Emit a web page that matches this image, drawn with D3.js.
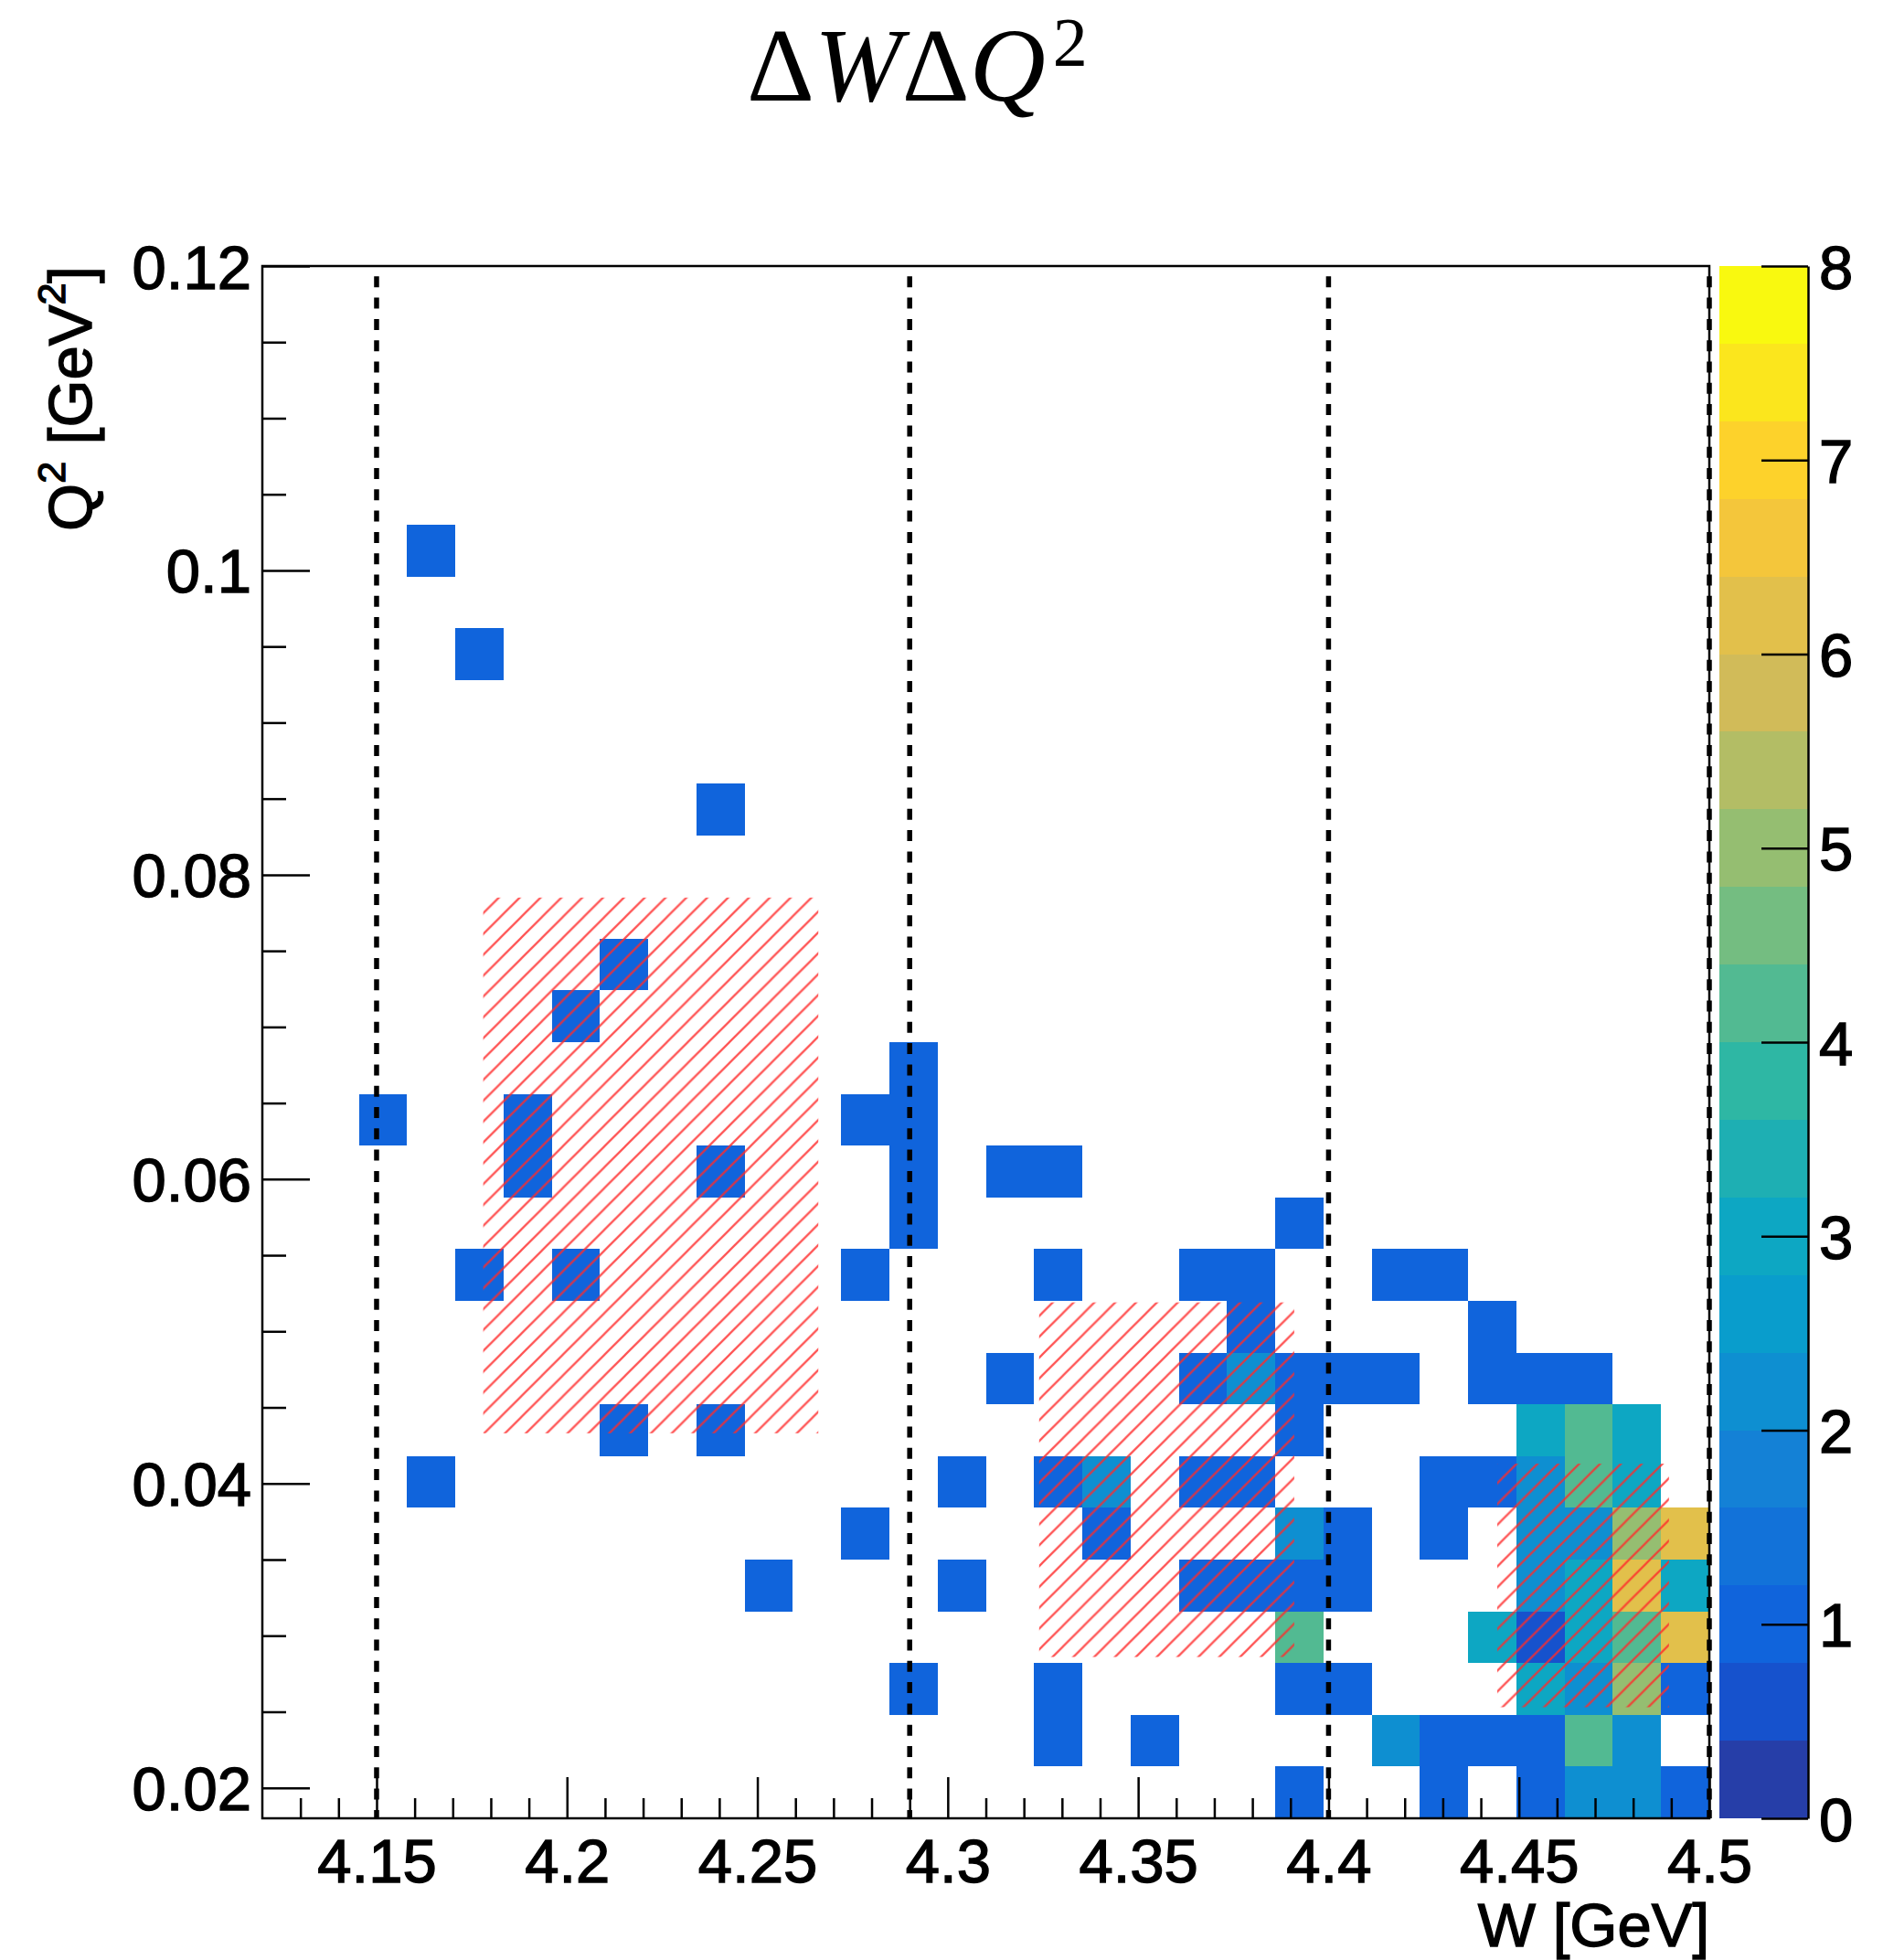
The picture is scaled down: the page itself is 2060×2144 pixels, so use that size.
<!DOCTYPE html>
<html>
<head>
<meta charset="utf-8">
<script src="https://cdn.jsdelivr.net/npm/d3@7"></script>
<style>
  body { margin: 0; background: #ffffff; }
  svg { display: block; }
</style>
</head>
<body>
<svg id="chart" width="2060" height="2144"></svg>
<script>
// ---- Histogram definition ----
const wRange = [4.12, 4.5];      // W [GeV]
const q2Range = [0.018, 0.12];   // Q^2 [GeV^2]
const nBinsW = 30;
const nBinsQ2 = 30;
const zRange = [0, 8];
const nContours = 20;

// Filled cells: W bin index, Q^2 bin index, content
const binW = [
  3, 4, 9, 7, 6, 13,
  2, 5, 12, 13,
  5, 9, 13, 15, 16,
  13, 21,
  4, 6, 12, 16, 19, 20, 23, 24,
  20, 25,
  15, 19, 20, 21, 22, 23, 25, 26, 27,
  7, 9, 21, 26, 27, 28,
  3, 14, 16, 17, 19, 20, 24, 25, 26, 27, 28,
  12, 17, 21, 22, 24, 26, 27, 28, 29,
  10, 14, 19, 20, 21, 22, 26, 27, 28, 29,
  21, 25, 26, 27, 28, 29,
  13, 16, 21, 22, 26, 27, 28, 29,
  16, 18, 23, 24, 25, 26, 27, 28,
  21, 24, 26, 27, 28, 29
];
const binQ2 = [
  24, 22, 19, 16, 15, 14,
  13, 13, 13, 13,
  12, 12, 12, 12, 12,
  11, 11,
  10, 10, 10, 10, 10, 10, 10, 10,
  9, 9,
  8, 8, 8, 8, 8, 8, 8, 8, 8,
  7, 7, 7, 7, 7, 7,
  6, 6, 6, 6, 6, 6, 6, 6, 6, 6, 6,
  5, 5, 5, 5, 5, 5, 5, 5, 5,
  4, 4, 4, 4, 4, 4, 4, 4, 4, 4,
  3, 3, 3, 3, 3, 3,
  2, 2, 2, 2, 2, 2, 2, 2,
  1, 1, 1, 1, 1, 1, 1, 1,
  0, 0, 0, 0, 0, 0
];
const counts = [
  1, 1, 1, 1, 1, 1,
  1, 1, 1, 1,
  1, 1, 1, 1, 1,
  1, 1,
  1, 1, 1, 1, 1, 1, 1, 1,
  1, 1,
  1, 1, 2, 1, 1, 1, 1, 1, 1,
  1, 1, 1, 3, 4, 3,
  1, 1, 1, 2, 1, 1, 1, 1, 2, 4, 3,
  1, 1, 2, 1, 1, 2, 2, 5, 6,
  1, 1, 1, 1, 1, 1, 2, 3, 6, 3,
  4, 3, 0.6, 3, 4, 6,
  1, 1, 1, 1, 3, 2, 5, 1,
  1, 1, 2, 1, 1, 1, 4, 2,
  1, 1, 1, 2, 2, 1
];

// Hatched windows (W from/to, Q^2 from/to)
const windowW0 = [4.178, 4.324, 4.4443];
const windowW1 = [4.266, 4.391, 4.4894];
const windowQ0 = [0.0433, 0.0286, 0.0253];
const windowQ1 = [0.0785, 0.0519, 0.0413];

// Vertical W cuts
const cutW = [4.15, 4.29, 4.40, 4.50];

// Axis ticks
const xTicks = [4.15, 4.2, 4.25, 4.3, 4.35, 4.4, 4.45, 4.5];
const xTickLabels = ["4.15", "4.2", "4.25", "4.3", "4.35", "4.4", "4.45", "4.5"];
const yTicks = [0.02, 0.04, 0.06, 0.08, 0.1, 0.12];
const yTickLabels = ["0.02", "0.04", "0.06", "0.08", "0.1", "0.12"];
const zTicks = [0, 1, 2, 3, 4, 5, 6, 7, 8];
const zTickLabels = ["0", "1", "2", "3", "4", "5", "6", "7", "8"];

// ---- Palette (kBird) ----
const birdStops = [0.0, 0.125, 0.25, 0.375, 0.5, 0.625, 0.75, 0.875, 1.0];
const birdR = [0.2082, 0.0592, 0.0780, 0.0232, 0.1802, 0.5301, 0.8186, 0.9956, 0.9764];
const birdG = [0.1664, 0.3599, 0.5041, 0.6419, 0.7178, 0.7492, 0.7328, 0.7862, 0.9832];
const birdB = [0.5293, 0.8684, 0.8385, 0.7914, 0.6425, 0.4662, 0.3499, 0.1968, 0.0539];

const nColors = 255;
const paletteTable = [];
for (let g = 1; g < birdStops.length; g++) {
  const n = Math.floor(nColors * birdStops[g]) - Math.floor(nColors * birdStops[g - 1]);
  for (let c = 0; c < n; c++) {
    const f = c / n;
    paletteTable.push(d3.rgb(
      255 * (birdR[g - 1] + f * (birdR[g] - birdR[g - 1])),
      255 * (birdG[g - 1] + f * (birdG[g] - birdG[g - 1])),
      255 * (birdB[g - 1] + f * (birdB[g] - birdB[g - 1]))
    ).formatHex());
  }
}
const levelStep = (zRange[1] - zRange[0]) / nContours;
function levelColor(k) {
  const idx = Math.min(nColors - 1, Math.floor((k + 0.99) * nColors / nContours));
  return paletteTable[idx];
}
function valueColor(v) {
  const k = Math.max(0, Math.min(nContours - 1, Math.floor((v - zRange[0]) / levelStep + 1e-9)));
  return levelColor(k);
}

// ---- Layout ----
const frame = { left: 287, right: 1870, top: 291, bottom: 1989 };
const bar = { left: 1881, right: 1978 };
const axisFont = "'Liberation Sans', Arial, Helvetica, sans-serif";
const labelSize = 67;
const textWeight = 1.4;   // slight stroke to thicken the sans glyphs

const svg = d3.select("#chart");
const x = d3.scaleLinear().domain(wRange).range([frame.left, frame.right]);
const y = d3.scaleLinear().domain(q2Range).range([frame.bottom, frame.top]);
const z = d3.scaleLinear().domain(zRange).range([frame.bottom, frame.top]);

const wEdges = d3.range(nBinsW + 1).map(i => wRange[0] + i * (wRange[1] - wRange[0]) / nBinsW);
const q2Edges = d3.range(nBinsQ2 + 1).map(j => q2Range[0] + j * (q2Range[1] - q2Range[0]) / nBinsQ2);

// Hatch pattern: "/" lines in red
const hs = 22.8;
const defs = svg.append("defs");
defs.append("pattern")
  .attr("id", "hatch")
  .attr("patternUnits", "userSpaceOnUse")
  .attr("width", hs).attr("height", hs)
  .append("path")
  .attr("d", `M${-hs / 4},${hs / 4} L${hs / 4},${-hs / 4} M0,${hs} L${hs},0 M${hs * 3 / 4},${hs * 5 / 4} L${hs * 5 / 4},${hs * 3 / 4}`)
  .attr("stroke", "#ff2a2a")
  .attr("stroke-opacity", 0.8)
  .attr("stroke-width", 2.3)
  .attr("fill", "none");

// Cells
svg.append("g").attr("class", "cells")
  .selectAll("rect")
  .data(d3.range(counts.length))
  .join("rect")
  .attr("x", i => x(wEdges[binW[i]]))
  .attr("width", i => x(wEdges[binW[i] + 1]) - x(wEdges[binW[i]]))
  .attr("y", i => y(q2Edges[binQ2[i] + 1]))
  .attr("height", i => y(q2Edges[binQ2[i]]) - y(q2Edges[binQ2[i] + 1]))
  .attr("fill", i => valueColor(counts[i]))
  .attr("shape-rendering", "crispEdges");

// Hatched windows
svg.append("g").attr("class", "windows")
  .selectAll("rect")
  .data(d3.range(windowW0.length))
  .join("rect")
  .attr("x", i => x(windowW0[i]))
  .attr("width", i => x(windowW1[i]) - x(windowW0[i]))
  .attr("y", i => y(windowQ1[i]))
  .attr("height", i => y(windowQ0[i]) - y(windowQ1[i]))
  .attr("fill", "url(#hatch)");

// Dashed W cuts
svg.append("g").attr("class", "cuts")
  .selectAll("line")
  .data(cutW)
  .join("line")
  .attr("x1", d => x(d)).attr("x2", d => x(d))
  .attr("y1", frame.top).attr("y2", frame.bottom)
  .attr("stroke", "#000")
  .attr("stroke-width", 5.5)
  .attr("stroke-dasharray", "12,11.3")
  .attr("stroke-dashoffset", 12);

// Frame
svg.append("rect")
  .attr("x", frame.left).attr("y", frame.top)
  .attr("width", frame.right - frame.left)
  .attr("height", frame.bottom - frame.top)
  .attr("fill", "none")
  .attr("stroke", "#000")
  .attr("stroke-width", 2.5);

function styleLabels(sel) {
  sel.attr("font-family", axisFont).attr("font-size", labelSize)
    .attr("fill", "#000").attr("stroke", "#000").attr("stroke-width", textWeight);
}

// X axis: major + minor ticks pointing into the frame
const xMinor = d3.range(13, 50).map(k => 4.0 + k / 100).filter(v => Math.round(v * 100) % 5 !== 0);
const gxMinor = svg.append("g")
  .attr("transform", `translate(0,${frame.bottom})`)
  .call(d3.axisBottom(x).tickValues(xMinor).tickSizeInner(-22).tickSizeOuter(0).tickFormat(""));
const gx = svg.append("g")
  .attr("transform", `translate(0,${frame.bottom})`)
  .call(d3.axisBottom(x).tickValues(xTicks).tickSizeInner(-45).tickSizeOuter(0)
    .tickFormat((d, i) => xTickLabels[i]));
[gxMinor, gx].forEach(g => {
  g.select(".domain").remove();
  g.selectAll(".tick line").attr("stroke", "#000").attr("stroke-width", 2.5);
});
gx.selectAll(".tick text").attr("y", 70).attr("dy", 0).call(styleLabels);

// Y axis
const yMinor = d3.range(5, 24).map(k => k * 0.005).filter(v => Math.round(v * 1000) % 20 !== 0);
const gyMinor = svg.append("g")
  .attr("transform", `translate(${frame.left},0)`)
  .call(d3.axisLeft(y).tickValues(yMinor).tickSizeInner(-26).tickSizeOuter(0).tickFormat(""));
const gy = svg.append("g")
  .attr("transform", `translate(${frame.left},0)`)
  .call(d3.axisLeft(y).tickValues(yTicks).tickSizeInner(-52).tickSizeOuter(0)
    .tickFormat((d, i) => yTickLabels[i]));
[gyMinor, gy].forEach(g => {
  g.select(".domain").remove();
  g.selectAll(".tick line").attr("stroke", "#000").attr("stroke-width", 2.5);
});
gy.selectAll(".tick text").attr("x", -12).attr("dy", 24).attr("text-anchor", "end").call(styleLabels);

// Axis titles
svg.append("text")
  .attr("x", frame.right).attr("y", 2129)
  .attr("text-anchor", "end")
  .call(styleLabels)
  .text("W [GeV]");

const yTitle = svg.append("text")
  .attr("transform", `translate(100,${frame.top}) rotate(-90)`)
  .attr("text-anchor", "end")
  .call(styleLabels);
yTitle.append("tspan").text("Q");
yTitle.append("tspan").attr("font-size", 43).attr("dy", -29).text("2");
yTitle.append("tspan").attr("dy", 29).text(" [GeV");
yTitle.append("tspan").attr("font-size", 43).attr("dy", -29).text("2");
yTitle.append("tspan").attr("dy", 29).text("]");

// Title
const title = svg.append("text")
  .attr("x", 817).attr("y", 110)
  .attr("font-family", "'Liberation Serif', 'Times New Roman', serif")
  .attr("font-size", 115)
  .attr("fill", "#000");
title.append("tspan").text("\u0394");
title.append("tspan").attr("font-style", "italic").text("W");
title.append("tspan").text("\u0394");
title.append("tspan").attr("font-style", "italic").text("Q");
title.append("tspan").attr("font-size", 76).attr("dy", -38).attr("dx", 8).text("2");

// ---- Colour bar ----
const gBar = svg.append("g").attr("class", "palette");
gBar.selectAll("rect")
  .data(d3.range(nContours))
  .join("rect")
  .attr("x", bar.left)
  .attr("width", bar.right - bar.left)
  .attr("y", k => z(zRange[0] + (k + 1) * levelStep))
  .attr("height", k => z(zRange[0] + k * levelStep) - z(zRange[0] + (k + 1) * levelStep))
  .attr("fill", k => levelColor(k))
  .attr("shape-rendering", "crispEdges");

const gz = svg.append("g")
  .attr("transform", `translate(${bar.right},0)`)
  .call(d3.axisRight(z).tickValues(zTicks).tickSizeInner(-51).tickSizeOuter(0)
    .tickFormat((d, i) => zTickLabels[i]));
gz.select(".domain").attr("stroke", "#000").attr("stroke-width", 2.5);
gz.selectAll(".tick line").attr("stroke", "#000").attr("stroke-width", 2.5);
gz.selectAll(".tick text").attr("x", 12).attr("dy", 24).attr("text-anchor", "start").call(styleLabels);
</script>
</body>
</html>
